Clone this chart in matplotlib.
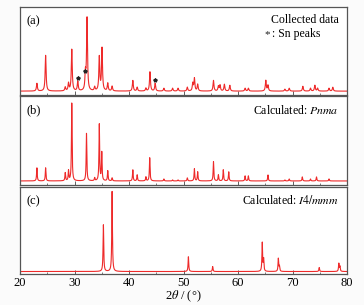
import matplotlib.pyplot as plt
from matplotlib.ticker import MultipleLocator
import numpy as np

plt.rcParams['font.family'] = ['Liberation Serif', 'DejaVu Serif']
plt.rcParams['mathtext.fontset'] = 'stix'

# peak positions (2theta) and heights
obs_pos = [23.1, 24.7, 28.3, 28.9, 29.5, 30.6, 32.0, 32.3, 33.7, 34.55, 35.05, 36.1, 36.9,
           40.7, 41.5, 43.1, 43.85, 44.8, 46.4, 48.0, 49.0, 50.7, 51.7, 52.0, 52.6,
           55.5, 56.4, 56.7, 57.5, 58.5, 61.3, 61.9, 65.1, 65.5, 68.6, 69.4, 71.9,
           73.3, 74.1, 74.6, 76.7, 77.4]
obs_int = [8, 37, 4, 8, 43, 10, 17, 75, 4, 35, 44, 8, 5,
           11, 4, 3, 20, 8, 3, 3, 3, 4, 8, 13, 7,
           11, 5, 6, 7, 6, 3, 3, 11, 6, 2, 3, 5,
           3, 6, 3, 3, 4]
sn_pos = [30.6, 32.0, 44.8]
sn_int = [10, 17, 8]

pnma_pos = [23.1, 24.7, 28.3, 28.9, 29.5, 32.2, 33.7, 34.55, 35.0, 36.1, 36.9,
            40.7, 41.5, 43.1, 43.8, 46.4, 48.0, 49.0, 50.7, 52.0, 52.6,
            55.5, 56.4, 57.3, 58.3, 61.3, 61.9, 65.5, 68.6, 69.4, 71.8, 73.3, 74.4, 76.7]
pnma_int = [13, 13, 8, 10, 77, 47, 3, 56, 28, 10, 3,
            11, 6, 4, 23, 2, 1, 1, 3, 12, 9,
            19, 6, 11, 9, 5, 5, 6, 1, 2, 4, 2, 4, 2]

i4_pos = [35.3, 36.9, 50.9, 55.35, 64.45, 64.7, 67.4, 67.6, 74.9, 78.5, 78.7]
i4_int = [47, 81, 15, 5, 29, 12, 13, 5, 4, 8, 5]

def profile(x, pos, inten, w):
    y = np.zeros_like(x)
    for p, h in zip(pos, inten):
        y += h / (1 + ((x - p) / w) ** 2)
    return y

x = np.linspace(20, 80, 4000)
red = '#ee2a2a'

fig = plt.figure(figsize=(3.64, 3.05), dpi=100, facecolor='#fbfbfb')
W, H = 364.0, 305.0
def box(top, bot):
    return [20 / W, 1 - bot / H, 327 / W, (bot - top) / H]

ax1 = fig.add_axes(box(7, 95))
ax2 = fig.add_axes(box(96, 185))
ax3 = fig.add_axes(box(187, 274))

ax1.plot(x, profile(x, obs_pos, obs_int, 0.1) + 1.0, color=red, lw=0.8)
ax1.plot(sn_pos, np.array(sn_int) + 5, ls='none', marker='*', color='#222222', ms=2.8)
ax1.set_ylim(-3, 88)
ax1.text(0.756, 0.685, '*', transform=ax1.transAxes, fontsize=8, color='#222222',
         ha='center', va='center')
ax1.text(0.772, 0.69, ': Sn peaks', transform=ax1.transAxes, fontsize=8.5,
         ha='left', va='center')
ax1.text(0.975, 0.85, 'Collected data', transform=ax1.transAxes, fontsize=8.5,
         ha='right', va='center')

ax2.plot(x, profile(x, pnma_pos, pnma_int, 0.07), color=red, lw=0.8)
ax2.set_ylim(-4, 84)
ax2.text(0.975, 0.84, 'Calculated: $\\mathit{Pnma}$', transform=ax2.transAxes,
         fontsize=8.5, ha='right', va='center')

ax3.plot(x, profile(x, i4_pos, i4_int, 0.07), color=red, lw=0.8)
ax3.set_ylim(-2.5, 85)
ax3.text(0.975, 0.84, 'Calculated: $\\mathit{I}4/\\mathit{mmm}$', transform=ax3.transAxes,
         fontsize=8.5, ha='right', va='center')

for ax, lab in zip((ax1, ax2, ax3), ('(a)', '(b)', '(c)')):
    ax.text(0.02, 0.84, lab, transform=ax.transAxes, fontsize=9, va='center')
    ax.set_xlim(20, 80)
    ax.set_facecolor('white')
    ax.set_yticks([])
    ax.xaxis.set_major_locator(MultipleLocator(10))
    ax.xaxis.set_minor_locator(MultipleLocator(5))
    ax.tick_params(axis='x', which='both', direction='in', color='#444444')
    ax.tick_params(axis='x', which='major', length=3, width=0.6, labelsize=9, pad=2)
    ax.tick_params(axis='x', which='minor', length=1.5, width=0.5)
    for s in ax.spines.values():
        s.set_color('#555555')
        s.set_linewidth(0.9)

ax1.tick_params(labelbottom=False)
ax2.tick_params(labelbottom=False)
ax3.set_xlabel('2$\\mathit{\\theta}$ / (°)', fontsize=9, labelpad=0)

fig.savefig('out.png', dpi=100, facecolor=fig.get_facecolor())
